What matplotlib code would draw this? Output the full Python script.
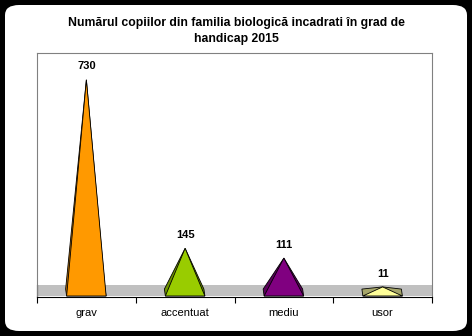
import numpy as np
import matplotlib.pyplot as plt
from matplotlib.patches import FancyBboxPatch, Polygon, Rectangle

plt.rcParams['font.family'] = ['Liberation Sans', 'DejaVu Sans']

categories = ["grav", "accentuat", "mediu", "usor"]
values = [730, 145, 111, 11]
front_colors = ["#FF9900", "#99CC00", "#800080", "#FFFF99"]
side_colors = ["#B86E00", "#6E9300", "#5A005A", "#A6A66A"]

title = "Numărul copiilor din familia biologică incadrati în grad de\nhandicap 2015"

W, H = 472, 336
fig = plt.figure(figsize=(W / 100, H / 100), dpi=100, facecolor="black")

# white rounded card on black background
card = FancyBboxPatch((5 / W, 5 / H), 462 / W, 326 / H,
                      boxstyle="round,pad=0,rounding_size=0.03",
                      transform=fig.transFigure, facecolor="white",
                      edgecolor="none", zorder=-5)
fig.patches.append(card)

fig.text(236 / W, 1 - 31 / H, title, ha="center", va="center",
         fontsize=8.8, fontweight="bold", linespacing=1.45)

ax = fig.add_axes([37 / W, (H - 297) / H, 395 / W, (297 - 53) / H])
ax.set_facecolor("white")
ax.set_xlim(-0.5, len(categories) - 0.5)
ax.set_ylim(-24, 823)

# floor
ax.add_patch(Rectangle((-0.5, -20.5), len(categories), 38, facecolor="#C0C0C0",
                       edgecolor="none", zorder=1))
ax.plot([-0.5, -0.5], [-24, 17.5], color="black", lw=0.8, zorder=2, clip_on=False)

w = 0.2
yf, yb = -20.5, 3.5
for i, (v, fc, sc) in enumerate(zip(values, front_colors, side_colors)):
    dark = [(i - w, yf), (i - w - 0.01, yb), (i, v), (i + w - 0.01, yb), (i + w, yf)]
    ax.add_patch(Polygon(dark, closed=True, facecolor=sc, edgecolor="black",
                         lw=0.6, zorder=3))
    front = [(i - w, yf), (i, v), (i + w, yf)]
    ax.add_patch(Polygon(front, closed=True, facecolor=fc, edgecolor="black",
                         lw=0.6, zorder=4))
    ax.annotate(str(v), (i, v), xytext=(0, 6), textcoords="offset points",
                ha="center", va="bottom", fontsize=8, fontweight="bold")

for s in ["left", "top", "right"]:
    ax.spines[s].set_color("#808080")
    ax.spines[s].set_linewidth(0.8)
ax.spines["bottom"].set_color("black")
ax.spines["bottom"].set_linewidth(0.8)

ax.set_yticks([])
ax.set_xticks(np.arange(-0.5, len(categories)), labels=[""] * (len(categories) + 1))
ax.set_xticks(np.arange(len(categories)), labels=categories, minor=True)
ax.tick_params(axis="x", which="major", length=4, width=0.8, color="black")
ax.tick_params(axis="x", which="minor", length=0, pad=8, labelsize=8)

fig.savefig("out.png", dpi=100, facecolor="black")
